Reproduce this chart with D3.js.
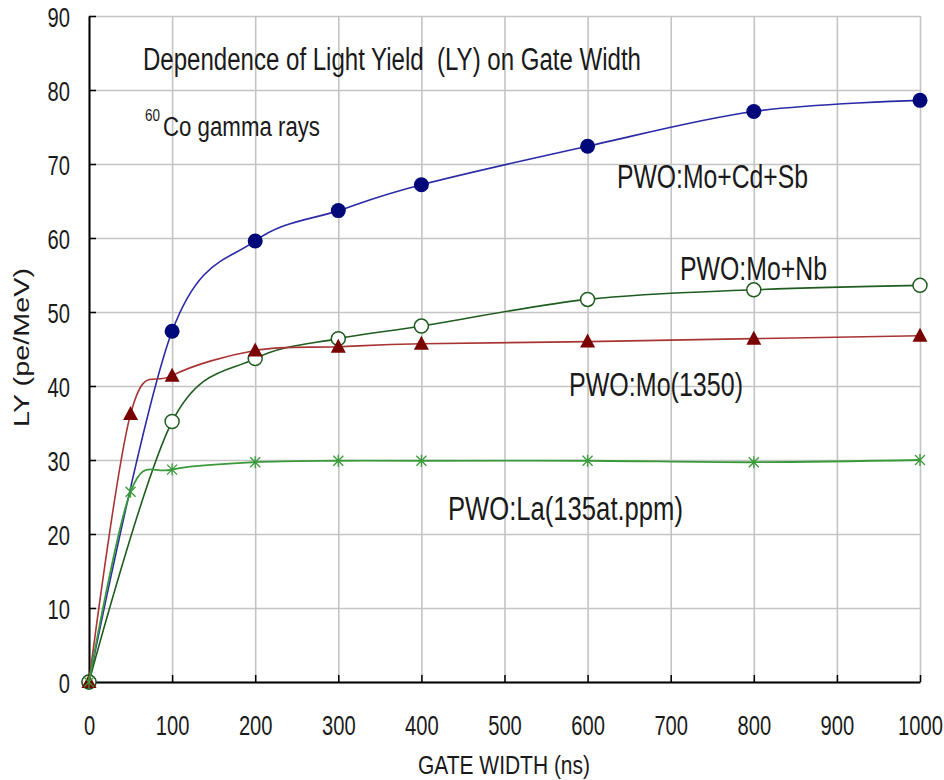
<!DOCTYPE html>
<html>
<head>
<meta charset="utf-8">
<script src="https://cdn.jsdelivr.net/npm/d3@7"></script>
<style>
  body { margin: 0; background: #fff; }
  text { font-family: "Liberation Sans", Arial, sans-serif; fill: #1a1a1a; }
</style>
</head>
<body>
<div id="chart"></div>
<script>
var width = 944,
    height = 780;

// gate width (ns) and light yield (pe/MeV) for each crystal
var gateCdSb = [0, 100, 200, 300, 400, 600, 800, 1000];
var lyCdSb   = [0, 47.4, 59.6, 63.7, 67.2, 72.4, 77.1, 78.6];

var gateNb = [0, 100, 200, 300, 400, 600, 800, 1000];
var lyNb   = [0, 35.2, 43.7, 46.4, 48.1, 51.7, 53.0, 53.6];

var gateMo = [0, 50, 100, 200, 300, 400, 600, 800, 1000];
var lyMo   = [0, 36.2, 41.4, 44.8, 45.3, 45.7, 46.0, 46.4, 46.8];

var gateLa = [0, 50, 100, 200, 300, 400, 600, 800, 1000];
var lyLa   = [0, 25.7, 28.7, 29.7, 29.9, 29.9, 29.9, 29.7, 30.0];

var xTicks = [0, 100, 200, 300, 400, 500, 600, 700, 800, 900, 1000];
var yTicks = [0, 10, 20, 30, 40, 50, 60, 70, 80, 90];

var svg = d3.select("#chart").append("svg")
    .attr("width", width)
    .attr("height", height);

var x = d3.scaleLinear().domain([0, 1000]).range([89, 920]);
var y = d3.scaleLinear().domain([0, 90]).range([682, 16]);

// grid
svg.append("g")
    .attr("transform", "translate(0,682)")
    .call(d3.axisBottom(x).tickValues(xTicks).tickSize(-(682 - 16)).tickFormat(""))
    .call(function (g) {
        g.select(".domain").remove();
        g.selectAll("line").attr("stroke", "#c4c4c4").attr("stroke-width", 1.6);
    });

svg.append("g")
    .attr("transform", "translate(89,0)")
    .call(d3.axisLeft(y).tickValues(yTicks).tickSize(-(920 - 89)).tickFormat(""))
    .call(function (g) {
        g.select(".domain").remove();
        g.selectAll("line").attr("stroke", "#c4c4c4").attr("stroke-width", 1.6);
    });

// squeeze tick text sideways like the narrow original font
function narrow(g) {
    g.selectAll("text").each(function () {
        var t = d3.select(this);
        var tx = +t.attr("x") || 0;
        t.attr("x", 0).attr("transform", "translate(" + tx + ",0) scale(0.72,1)");
    });
}

var xAxis = svg.append("g")
    .attr("transform", "translate(0,682)")
    .call(d3.axisBottom(x).tickValues(xTicks).tickFormat(d3.format("d"))
        .tickSize(-7).tickSizeOuter(0).tickPadding(33));

var yAxis = svg.append("g")
    .attr("transform", "translate(89,0)")
    .call(d3.axisLeft(y).tickValues(yTicks).tickFormat(d3.format("d"))
        .tickSize(-7).tickSizeOuter(0).tickPadding(19));

[xAxis, yAxis].forEach(function (g) {
    g.select(".domain").attr("stroke", "#000").attr("stroke-width", 2);
    g.selectAll(".tick line").attr("stroke", "#000").attr("stroke-width", 1.5);
    g.selectAll("text").style("font-family", "Liberation Sans, Arial, sans-serif")
        .style("font-size", "28px").attr("fill", "#1a1a1a");
    narrow(g);
});
yAxis.selectAll("text").attr("dy", "0.36em");

var line = d3.line()
    .x(function (d) { return x(d[0]); })
    .y(function (d) { return y(d[1]); })
    .curve(d3.curveCardinal.tension(0));

function pairs(gx, gy) {
    return gx.map(function (v, i) { return [v, gy[i]]; });
}

var dataCdSb = pairs(gateCdSb, lyCdSb),
    dataNb = pairs(gateNb, lyNb),
    dataMo = pairs(gateMo, lyMo),
    dataLa = pairs(gateLa, lyLa);

// PWO:Mo+Cd+Sb
svg.append("path").datum(dataCdSb)
    .attr("d", line).attr("fill", "none")
    .attr("stroke", "#2a2aa8").attr("stroke-width", 1.6);
svg.selectAll(".cdsb").data(dataCdSb).enter().append("circle")
    .attr("class", "cdsb")
    .attr("cx", function (d) { return x(d[0]); })
    .attr("cy", function (d) { return y(d[1]); })
    .attr("r", 7.5)
    .attr("fill", "#00087a");

// PWO:Mo+Nb
svg.append("path").datum(dataNb)
    .attr("d", line).attr("fill", "none")
    .attr("stroke", "#1f5c1f").attr("stroke-width", 1.6);
svg.selectAll(".nb").data(dataNb).enter().append("circle")
    .attr("class", "nb")
    .attr("cx", function (d) { return x(d[0]); })
    .attr("cy", function (d) { return y(d[1]); })
    .attr("r", 7)
    .attr("fill", "#fff")
    .attr("stroke", "#1f5c1f").attr("stroke-width", 1.5);

// PWO:Mo(1350)
svg.append("path").datum(dataMo)
    .attr("d", line).attr("fill", "none")
    .attr("stroke", "#a83434").attr("stroke-width", 1.6);
svg.selectAll(".mo").data(dataMo).enter().append("path")
    .attr("class", "mo")
    .attr("transform", function (d) { return "translate(" + x(d[0]) + "," + y(d[1]) + ")"; })
    .attr("d", "M0,-8L7.5,6L-7.5,6Z")
    .attr("fill", "#7a0000");

// PWO:La(135at.ppm)
svg.append("path").datum(dataLa)
    .attr("d", line).attr("fill", "none")
    .attr("stroke", "#3a9a3a").attr("stroke-width", 1.8);
svg.selectAll(".la").data(dataLa).enter().append("path")
    .attr("class", "la")
    .attr("transform", function (d) { return "translate(" + x(d[0]) + "," + y(d[1]) + ")"; })
    .attr("d", "M-5,-5L5,5M-5,5L5,-5M0,-6L0,6")
    .attr("fill", "none")
    .attr("stroke", "#3a9a3a").attr("stroke-width", 1.3);

// texts
function label(txt, tx, ty, size, len) {
    return svg.append("text")
        .attr("x", tx).attr("y", ty)
        .attr("textLength", len).attr("lengthAdjust", "spacingAndGlyphs")
        .style("font-size", size + "px")
        .text(txt);
}

label("Dependence of Light Yield \u00a0(LY) on Gate Width", 143, 70, 31, 498);
label("60", 145, 121, 17, 15);
label("Co gamma rays", 163, 136, 27, 157);

label("PWO:Mo+Cd+Sb", 617, 188, 34, 191);
label("PWO:Mo+Nb", 680, 280, 34, 147);
label("PWO:Mo(1350)", 569, 396, 34, 174);
label("PWO:La(135at.ppm)", 448, 520, 34, 235);

label("GATE WIDTH (ns)", 418, 774, 25, 172);

svg.append("text")
    .attr("transform", "translate(29,427) rotate(-90)")
    .attr("textLength", 159).attr("lengthAdjust", "spacingAndGlyphs")
    .style("font-size", "22px")
    .text("LY (pe/MeV)");
</script>
</body>
</html>
